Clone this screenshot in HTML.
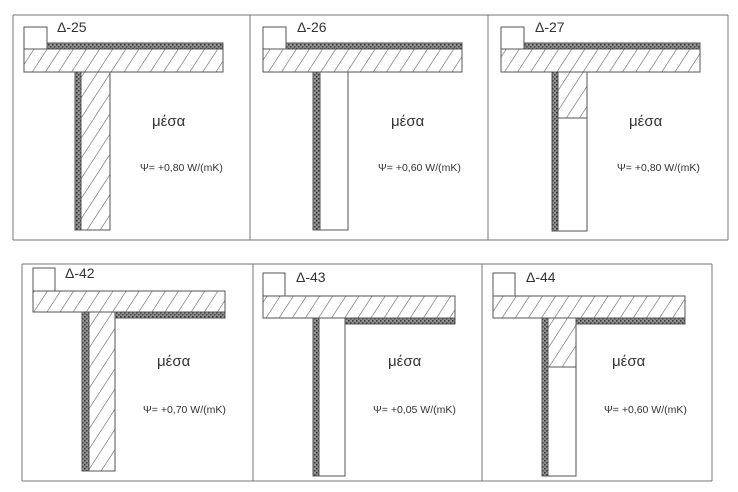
<!DOCTYPE html>
<html><head><meta charset="utf-8"><style>
html,body{margin:0;padding:0;background:#fff;}
svg{display:block}
text{font-family:"Liberation Sans","DejaVu Sans",sans-serif;fill:#333}
</style></head><body>
<svg width="738" height="492" viewBox="0 0 738 492" xmlns="http://www.w3.org/2000/svg">
<defs>
<pattern id="h" patternUnits="userSpaceOnUse" width="11" height="11" patternTransform="rotate(33)">
<rect width="11" height="11" fill="#fff"/><line x1="0" y1="0" x2="0" y2="11" stroke="#555" stroke-width="1.1"/>
</pattern>
<pattern id="d" patternUnits="userSpaceOnUse" width="4" height="4">
<rect width="4" height="4" fill="#8a8a8a"/><rect x="0" y="0" width="1.5" height="1.5" fill="#333"/><rect x="2" y="2" width="1.5" height="1.5" fill="#444"/><rect x="2.5" y="0.5" width="1" height="1" fill="#bbb"/>
</pattern>
</defs>
<g stroke="#777" stroke-width="1" fill="none">
<line x1="13" y1="15" x2="728" y2="15"/><line x1="13" y1="240" x2="728" y2="240"/>
<line x1="13" y1="15" x2="13" y2="240"/><line x1="250" y1="15" x2="250" y2="240"/>
<line x1="488" y1="15" x2="488" y2="240"/><line x1="728" y1="15" x2="728" y2="240"/>
<line x1="22" y1="264" x2="712" y2="264"/><line x1="22" y1="481" x2="712" y2="481"/>
<line x1="22" y1="264" x2="22" y2="481"/><line x1="253" y1="264" x2="253" y2="481"/>
<line x1="482" y1="264" x2="482" y2="481"/><line x1="712" y1="264" x2="712" y2="481"/>
</g>
<g stroke="#555" stroke-width="1">
<rect x="24" y="27" width="23" height="22" fill="#fff"/>
<rect x="47" y="43" width="176" height="6" fill="url(#d)"/>
<rect x="24" y="49" width="199" height="23" fill="url(#h)"/>
<rect x="75" y="72" width="6" height="158" fill="url(#d)"/>
<rect x="81" y="72" width="29" height="158" fill="url(#h)"/>
<rect x="263" y="27" width="23" height="22" fill="#fff"/>
<rect x="286" y="43" width="176" height="6" fill="url(#d)"/>
<rect x="263" y="49" width="199" height="23" fill="url(#h)"/>
<rect x="313" y="72" width="7" height="158" fill="url(#d)"/>
<rect x="320" y="72" width="28" height="158" fill="#fff"/>
<rect x="501" y="27" width="23" height="22" fill="#fff"/>
<rect x="524" y="43" width="176" height="6" fill="url(#d)"/>
<rect x="501" y="49" width="199" height="23" fill="url(#h)"/>
<rect x="552" y="72" width="6" height="159" fill="url(#d)"/>
<rect x="558" y="72" width="29" height="46" fill="url(#h)"/>
<rect x="558" y="118" width="29" height="113" fill="#fff"/>
<rect x="33" y="268" width="22" height="23" fill="#fff"/>
<rect x="33" y="291" width="192" height="21" fill="url(#h)"/>
<rect x="115" y="312" width="110" height="6" fill="url(#d)"/>
<rect x="82" y="312" width="7" height="159" fill="url(#d)"/>
<rect x="89" y="312" width="26" height="159" fill="url(#h)"/>
<rect x="263" y="273" width="22" height="23" fill="#fff"/>
<rect x="263" y="296" width="192" height="22" fill="url(#h)"/>
<rect x="345" y="318" width="110" height="6" fill="url(#d)"/>
<rect x="313" y="318" width="6" height="158" fill="url(#d)"/>
<rect x="319" y="318" width="26" height="158" fill="#fff"/>
<rect x="493" y="273" width="22" height="23" fill="#fff"/>
<rect x="493" y="296" width="192" height="22" fill="url(#h)"/>
<rect x="576" y="318" width="109" height="6" fill="url(#d)"/>
<rect x="542" y="318" width="6" height="158" fill="url(#d)"/>
<rect x="548" y="318" width="28" height="49" fill="url(#h)"/>
<rect x="548" y="367" width="28" height="109" fill="#fff"/>
</g>
<g font-size="14">
<text x="57" y="32">Δ-25</text><text x="297" y="32">Δ-26</text><text x="535" y="32">Δ-27</text>
<text x="65" y="278">Δ-42</text><text x="296" y="282">Δ-43</text><text x="526" y="282">Δ-44</text>
</g>
<g font-size="15">
<text x="152" y="126">μέσα</text><text x="391" y="126">μέσα</text><text x="629" y="126">μέσα</text>
<text x="157" y="366">μέσα</text><text x="388" y="366">μέσα</text><text x="612" y="366">μέσα</text>
</g>
<g font-size="10.5">
<text x="140" y="171">Ψ= +0,80 W/(mK)</text><text x="378" y="171">Ψ= +0,60 W/(mK)</text><text x="617" y="171">Ψ= +0,80 W/(mK)</text>
<text x="143" y="413">Ψ= +0,70 W/(mK)</text><text x="373" y="413">Ψ= +0,05 W/(mK)</text><text x="604" y="413">Ψ= +0,60 W/(mK)</text>
</g>
</svg>
</body></html>
